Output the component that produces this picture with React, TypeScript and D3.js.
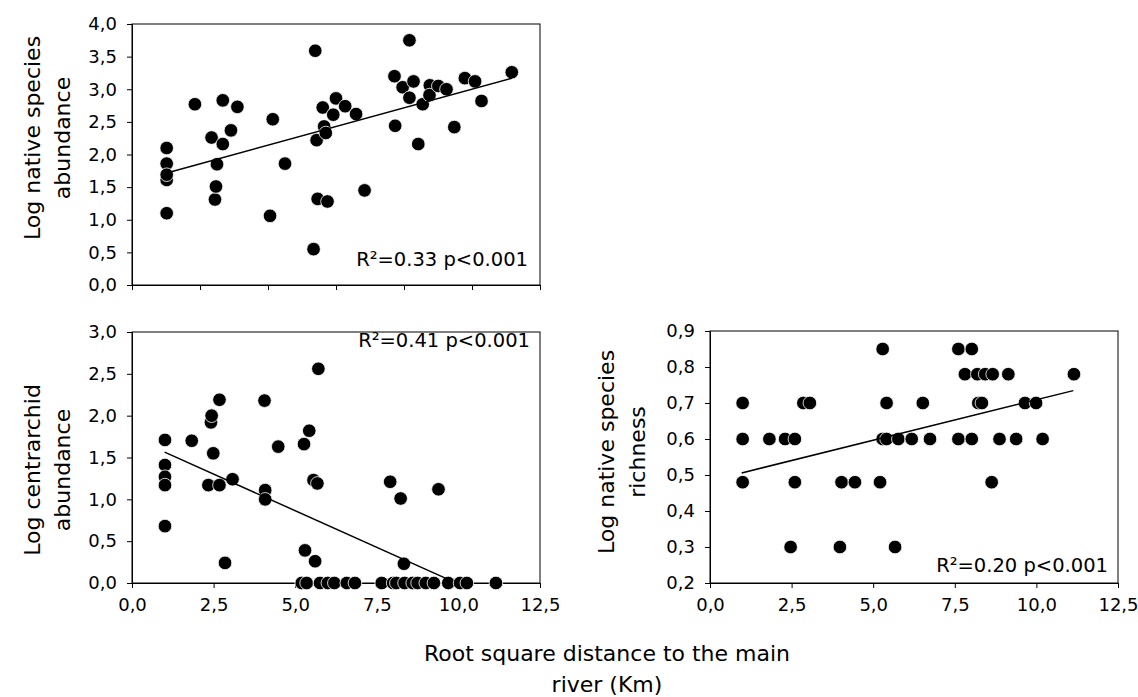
import React, { useRef, useEffect } from 'react';
import * as d3 from 'd3';

// x: root square distance to the main river (Km)
const xTicks = [0, 2.5, 5, 7.5, 10, 12.5];
// the upper panel has its own, unlabelled distance axis
const xTicksTop = [0, 2, 4, 6, 8, 10, 12];

// [distance, log native species abundance]
const nativeAbundance: [number, number][] = [
  [1.02, 2.1], [1.02, 1.86], [1.02, 1.61], [1.02, 1.69], [1.02, 1.1],
  [1.85, 2.77], [2.34, 2.26], [2.44, 1.31], [2.47, 1.51], [2.5, 1.85],
  [2.67, 2.16], [2.67, 2.83], [2.91, 2.37], [3.1, 2.73], [4.06, 1.06],
  [4.14, 2.54], [4.5, 1.86], [5.34, 0.55], [5.39, 3.59], [5.43, 2.22],
  [5.46, 1.32], [5.61, 2.72], [5.65, 2.43], [5.7, 2.33], [5.75, 1.28],
  [5.92, 2.61], [6.0, 2.86], [6.27, 2.74], [6.59, 2.62], [6.84, 1.45],
  [7.72, 3.2], [7.74, 2.44], [7.96, 3.03], [8.16, 3.75], [8.16, 2.87],
  [8.28, 3.12], [8.42, 2.16], [8.55, 2.77], [8.76, 3.06], [8.75, 2.91],
  [9.01, 3.05], [9.25, 3.0], [9.48, 2.42], [9.79, 3.17], [10.09, 3.12],
  [10.28, 2.82], [11.17, 3.26],
];

// [distance, log centrarchid abundance]
const centrarchidAbundance: [number, number][] = [
  [1.01, 1.71], [1.01, 1.41], [1.01, 1.27], [1.01, 1.17], [1.01, 0.68],
  [1.83, 1.7], [2.42, 1.92], [2.44, 2.0], [2.49, 1.55], [2.34, 1.17],
  [2.68, 2.19], [2.68, 1.17], [2.85, 0.24], [3.08, 1.24], [4.06, 2.18],
  [4.08, 1.11], [4.08, 1.0], [4.48, 1.63], [5.27, 1.66], [5.43, 1.82],
  [5.3, 0.39], [5.61, 0.26], [5.56, 1.23], [5.68, 1.19], [5.71, 2.56],
  [7.91, 1.21], [8.23, 1.01], [8.33, 0.23], [9.39, 1.12],
  [5.2, 0], [5.35, 0], [5.76, 0], [6.0, 0], [6.2, 0], [6.58, 0], [6.83, 0],
  [7.65, 0], [8.0, 0], [8.1, 0], [8.35, 0], [8.6, 0], [8.75, 0], [9.0, 0],
  [9.25, 0], [9.69, 0], [10.05, 0], [10.26, 0], [11.15, 0],
];

// [distance, log native species richness]
const nativeRichness: [number, number][] = [
  [1.0, 0.7], [1.0, 0.6], [1.0, 0.48], [1.82, 0.6], [2.3, 0.6], [2.6, 0.6],
  [2.47, 0.3], [2.6, 0.48], [2.86, 0.7], [3.06, 0.7], [3.98, 0.3], [4.03, 0.48],
  [4.44, 0.48], [5.21, 0.48], [5.29, 0.85], [5.29, 0.6], [5.41, 0.6], [5.41, 0.7],
  [5.67, 0.3], [5.77, 0.6], [6.18, 0.6], [6.52, 0.7], [6.74, 0.6], [7.61, 0.85],
  [7.61, 0.6], [8.02, 0.85], [7.81, 0.78], [8.02, 0.6], [8.19, 0.78], [8.22, 0.7],
  [8.33, 0.7], [8.43, 0.78], [8.66, 0.78], [8.63, 0.48], [8.87, 0.6], [9.14, 0.78],
  [9.38, 0.6], [9.65, 0.7], [9.99, 0.7], [10.19, 0.6], [11.15, 0.78],
];

// fitted lines: y = intercept + slope * x, drawn between from and to
const trendNative = { from: 1.02, to: 11.17, intercept: 1.569, slope: 0.1433 };
const trendCentrarchid = { from: 1.0, to: 9.6, intercept: 1.739, slope: -0.175 };
const trendRichness = { from: 0.97, to: 11.13, intercept: 0.484, slope: 0.0225 };

const FONT = '"DejaVu Sans", Verdana, sans-serif';

const panels = [
  {
    data: nativeAbundance, trend: trendNative, xDomain: [0, 12], xTickValues: xTicksTop,
    yDomain: [0, 4], yStep: 0.5,
    left: 132, right: 540, top: 24, bottom: 285, xLabels: false,
    title: ['Log native species', 'abundance'], titleX: [40, 70], titleY: 138,
    note: 'R\u00b2=0.33 p<0.001', noteX: 528, noteY: 266,
  },
  {
    data: centrarchidAbundance, trend: trendCentrarchid, xDomain: [0, 12.5], xTickValues: xTicks,
    yDomain: [0, 3], yStep: 0.5,
    left: 132, right: 540, top: 332, bottom: 583, xLabels: true,
    title: ['Log centrarchid', 'abundance'], titleX: [40, 70], titleY: 470,
    note: 'R\u00b2=0.41 p<0.001', noteX: 530, noteY: 347,
  },
  {
    data: nativeRichness, trend: trendRichness, xDomain: [0, 12.5], xTickValues: xTicks,
    yDomain: [0.2, 0.9], yStep: 0.1,
    left: 710, right: 1118, top: 331, bottom: 583, xLabels: true,
    title: ['Log native species', 'richness'], titleX: [614, 645], titleY: 452,
    note: 'R\u00b2=0.20 p<0.001', noteX: 1108, noteY: 572,
  },
];

const fmt = (d: number) => d3.format('.1f')(d).replace('.', ',');

const App = () => {
  const ref = useRef<SVGSVGElement>(null);

  useEffect(() => {
    const svg = d3.select(ref.current);
    svg.selectAll('*').remove();

    panels.forEach(p => {
      const x = d3.scaleLinear().domain(p.xDomain).range([p.left, p.right]);
      const y = d3.scaleLinear().domain(p.yDomain).range([p.bottom, p.top]);
      const yTicks = d3.range(p.yDomain[0], p.yDomain[1] + p.yStep / 2, p.yStep);
      const g = svg.append('g');

      g.append('rect')
        .attr('x', p.left).attr('y', p.top)
        .attr('width', p.right - p.left).attr('height', p.bottom - p.top)
        .attr('fill', 'none').attr('stroke', '#000').attr('stroke-width', 1);

      const xAxis = g.append('g')
        .attr('transform', `translate(0,${p.bottom})`)
        .call(d3.axisBottom(x).tickValues(p.xTickValues).tickSize(5).tickPadding(10)
          .tickFormat(p.xLabels ? (fmt as any) : () => ''));
      const yAxis = g.append('g')
        .attr('transform', `translate(${p.left},0)`)
        .call(d3.axisLeft(y).tickValues(yTicks).tickSize(5).tickPadding(10).tickFormat(fmt as any));

      [xAxis, yAxis].forEach(a => {
        a.attr('font-family', FONT).attr('font-size', 18);
        a.selectAll('text').attr('fill', '#000');
        a.selectAll('line').attr('stroke', '#000');
        a.select('.domain').attr('stroke', '#000');
      });

      g.selectAll('circle.pt')
        .data(p.data)
        .enter()
        .append('circle')
        .attr('class', 'pt')
        .attr('cx', d => x(d[0]))
        .attr('cy', d => y(d[1]))
        .attr('r', 6.8)
        .attr('fill', '#000')
        .attr('stroke', '#fff')
        .attr('stroke-width', 0.8);

      const t = p.trend;
      g.append('line')
        .attr('x1', x(t.from)).attr('y1', y(t.intercept + t.slope * t.from))
        .attr('x2', x(t.to)).attr('y2', y(t.intercept + t.slope * t.to))
        .attr('stroke', '#000').attr('stroke-width', 1.5);

      g.append('text')
        .attr('x', p.noteX).attr('y', p.noteY)
        .attr('text-anchor', 'end')
        .attr('font-family', FONT).attr('font-size', 19.5)
        .text(p.note);

      p.title.forEach((line, i) => {
        g.append('text')
          .attr('transform', `translate(${p.titleX[i]},${p.titleY}) rotate(-90)`)
          .attr('text-anchor', 'middle')
          .attr('font-family', FONT).attr('font-size', 22)
          .text(line);
      });
    });

    const xTitle = svg.append('text')
      .attr('text-anchor', 'middle')
      .attr('font-family', FONT).attr('font-size', 22);
    xTitle.append('tspan').attr('x', 607).attr('y', 661).text('Root square distance to the main');
    xTitle.append('tspan').attr('x', 607).attr('y', 692).text('river (Km)');
  }, []);

  return (
    <svg
      ref={ref}
      width={1138}
      height={697}
      style={{ position: 'absolute', left: 0, top: 0, background: '#fff' }}
    />
  );
};

export default App;
